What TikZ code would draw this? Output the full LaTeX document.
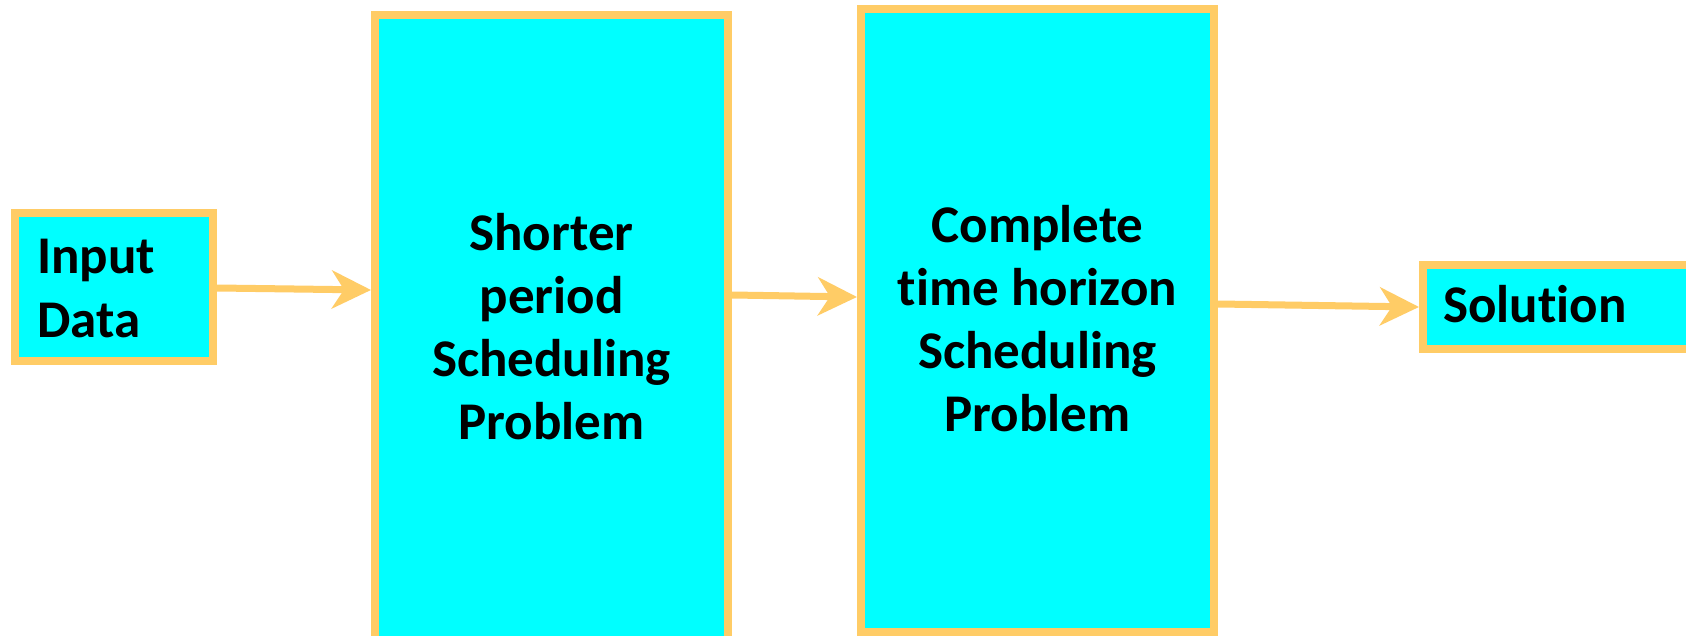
\documentclass[tikz,border=0pt]{standalone}
\usepackage{fontspec}
\setmainfont{Carlito}[Ligatures={NoCommon}]
\usetikzlibrary{arrows.meta}
\definecolor{bordc}{HTML}{FFCC66}
\definecolor{boxfill}{HTML}{00FFFF}
\tikzset{
  blockbox/.style={draw=bordc, fill=boxfill, line width=8pt, rectangle, inner sep=0pt},
  label text/.style={font=\bfseries\fontsize{53}{63}\selectfont, inner sep=0pt, text=black},
  flowarrow/.style={draw=bordc, line width=7pt, -{Stealth[length=39pt, width=38pt, inset=12pt]}}
}
\begin{document}
\begin{tikzpicture}[x=1pt,y=-1pt]
\useasboundingbox (0,0) rectangle (1686,636);
\clip (0,0) rectangle (1686,636);
\fill[white] (0,0) rectangle (1686,636);
\node[blockbox, minimum width=198pt, minimum height=148pt] (b1) at (114,287) {};
\node[blockbox, minimum width=353pt, minimum height=630pt] (b2) at (551.5,330) {};
\node[blockbox, minimum width=353pt, minimum height=623pt] (b3) at (1037.5,320.5) {};
\node[blockbox, minimum width=337pt, minimum height=84pt] (b4) at (1591.5,307) {};
\node[label text, align=left, anchor=base west] (t1) at (37,337) {Input\\Data};
\node[label text, align=center, anchor=base] (t2) at (551.5,439) {Shorter\\period\\Scheduling\\Problem};
\node[label text, align=center, anchor=base] (t3) at (1037.5,431) {Complete\\time horizon\\Scheduling\\Problem};
\node[label text, anchor=base west] (t4) at (1443,323) {Solution};
\draw[flowarrow] ([yshift=-1pt]b1.east) -- ([yshift=40pt]b2.west);
\draw[flowarrow] ([yshift=35pt]b2.east) -- ([yshift=23.5pt]b3.west);
\draw[flowarrow] ([yshift=16.5pt]b3.east) -- (b4.west);
\end{tikzpicture}
\end{document}
